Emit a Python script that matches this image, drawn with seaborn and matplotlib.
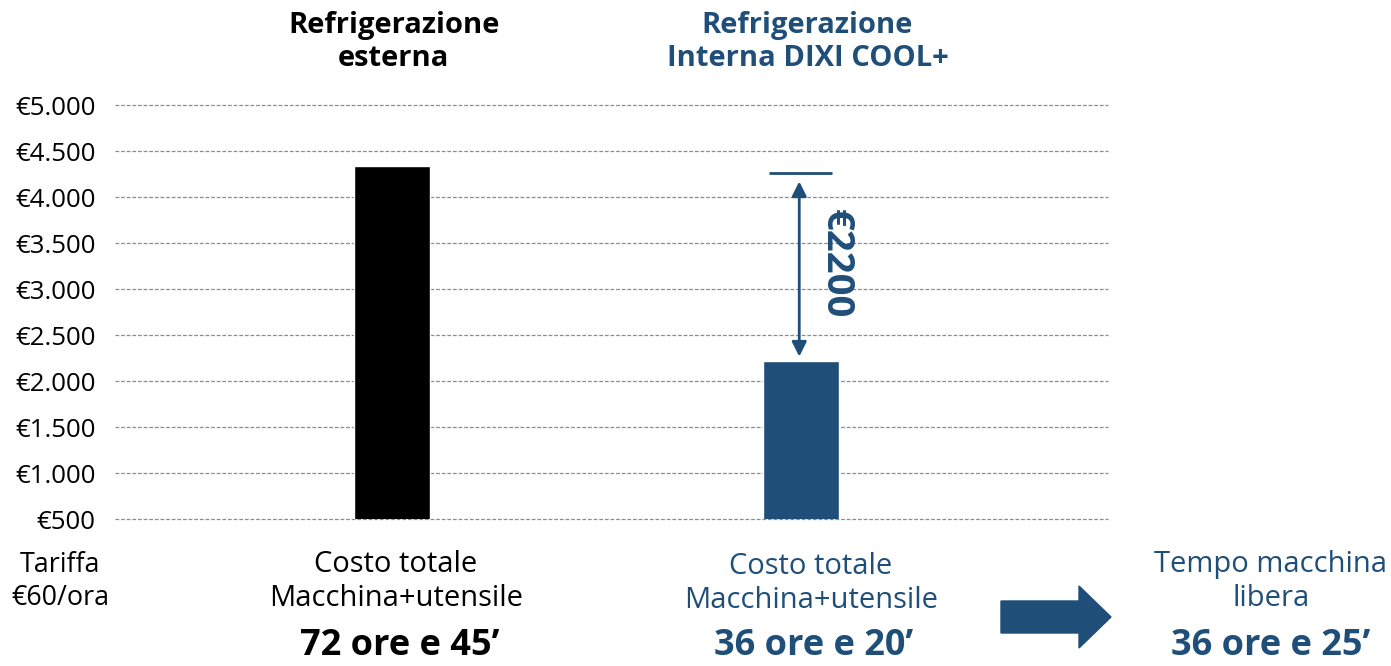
import matplotlib.pyplot as plt
import matplotlib.transforms as mtransforms
from matplotlib.patches import FancyArrow
import pandas as pd
import seaborn as sns

# data
categories = ["Refrigerazione\nesterna", "Refrigerazione\nInterna DIXI COOL+"]
costs = [4340, 2220]
bar_colors = ["#000000", "#1F4E79"]
hours_labels = ["72 ore e 45\u2019", "36 ore e 20\u2019"]
free_time_label = "36 ore e 25\u2019"
saving_label = "\u20ac2200"
saving_top = 4260
y_ticks = [500, 1000, 1500, 2000, 2500, 3000, 3500, 4000, 4500, 5000]

BLUE = "#1F4E79"

sns.set_style("white")
plt.rcParams["font.family"] = ["Open Sans", "DejaVu Sans"]

df = pd.DataFrame({"categoria": categories, "costo": costs})

fig = plt.figure(figsize=(13.91, 6.66), dpi=100)
ax = fig.add_axes([0.0827, 0.2207, 0.714, 0.6216])

sns.barplot(data=df, x="categoria", y="costo", hue="categoria", palette=bar_colors,
            dodge=False, legend=False, width=0.186, saturation=1, ax=ax, zorder=3)

ax.set_ylim(500, 5000)
ax.set_xlim(-0.677, 1.75)
ax.set_yticks(y_ticks)
ax.set_yticklabels(["\u20ac" + f"{v:,}".replace(",", ".") for v in y_ticks])
ax.tick_params(axis="y", labelsize=18.6, length=0, pad=14, colors="#000000")
ax.set_xticks([])
ax.set_xlabel("")
ax.set_ylabel("")
for s in ax.spines.values():
    s.set_visible(False)
for v in y_ticks:
    ax.axhline(v, color="#8c8c8c", lw=0.9, ls=(0, (3, 1.5)), zorder=1, clip_on=False)

# saving annotation
ax.hlines(saving_top, 0.92, 1.075, color=BLUE, lw=2, zorder=4)
ax.annotate("", xy=(0.995, saving_top), xytext=(0.995, costs[1]),
            arrowprops=dict(arrowstyle="<|-|>", color=BLUE, lw=2,
                            mutation_scale=22, shrinkA=3, shrinkB=6))
ax.text(1.083, (saving_top + costs[1]) / 2 + 40, saving_label, rotation=-90,
        ha="center", va="center", fontsize=27.5, fontweight="bold", color=BLUE)

# texts above and below bars (x in data, y in figure)
trans = mtransforms.blended_transform_factory(ax.transData, fig.transFigure)
title_colors = ["#000000", BLUE]
title_dx = [0.004, 0.005]
sub_dx = [0.009, 0.013]
bold_dx = [0.018, 0.019]
for i, cat in enumerate(categories):
    ax.text(i + 0.01 * i + title_dx[i], 0.937, cat, transform=trans, ha="center", va="center",
            fontsize=21, fontweight="bold", color=title_colors[i], linespacing=1.2)
    ax.text(i + 0.01 * i + sub_dx[i], 0.127 - 0.003 * i, "Costo totale\nMacchina+utensile",
            transform=trans, ha="center", va="center", fontsize=21,
            color=title_colors[i], linespacing=1.25)
    ax.text(i + 0.01 * i + bold_dx[i], 0.016, hours_labels[i], transform=trans,
            ha="center", va="baseline", fontsize=26, fontweight="bold", color=title_colors[i])

fig.text(60 / 1391, 0.127, "Tariffa\n\u20ac60/ora", ha="center", va="center",
         fontsize=19.4, color="#000000", linespacing=1.2)

fig.text(1271 / 1391, 0.127, "Tempo macchina\nlibera", ha="center", va="center",
         fontsize=21, color=BLUE, linespacing=1.25)
fig.text(1271 / 1391, 0.016, free_time_label, ha="center", va="baseline",
         fontsize=26, fontweight="bold", color=BLUE)

# big block arrow
fig.patches.append(FancyArrow(1001 / 1391, 1 - 617 / 666, 110 / 1391, 0,
                              width=32 / 666, head_width=62 / 666, head_length=32 / 1391,
                              length_includes_head=True, color=BLUE,
                              transform=fig.transFigure, figure=fig))

fig.savefig("out.png", dpi=100)
